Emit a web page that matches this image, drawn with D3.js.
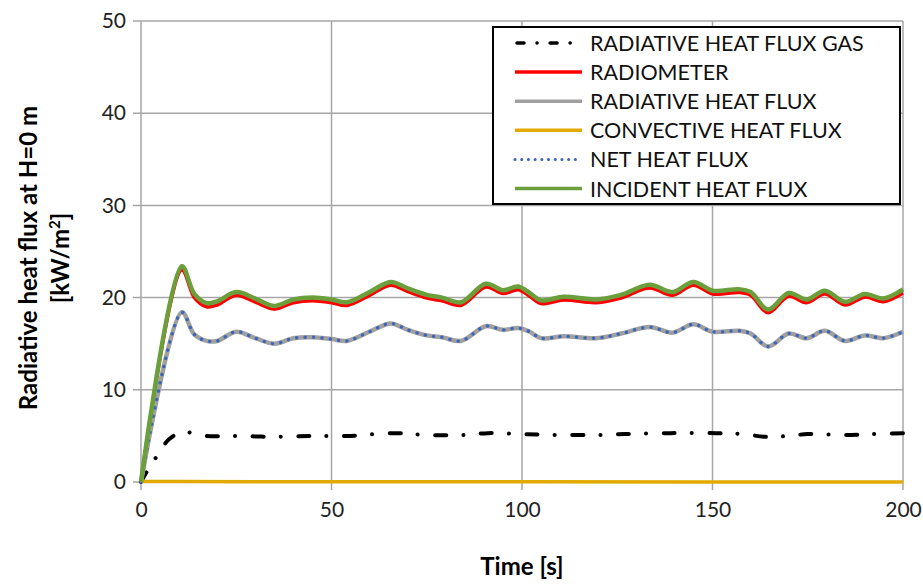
<!DOCTYPE html>
<html>
<head>
<meta charset="utf-8">
<script src="https://cdn.jsdelivr.net/npm/d3@7"></script>
<style>
  body { margin: 0; background: #fff; }
  svg { font-family: Lato, "Open Sans", sans-serif; }
</style>
</head>
<body>
<div id="main"></div>
<script>
// time knots (s) for the flux curves
var timeFlux = [0, 10.7, 14, 17.2, 20, 25, 30, 35, 40, 45, 50, 54, 60, 65.5, 70, 75, 79, 84, 90.5, 95, 99, 102,
  105, 111, 119.5, 126, 133.5, 139.5, 145, 150, 157, 160, 164.6, 170, 174.7, 179.5, 184.8, 190, 194.8, 200];
var incident = [0, 23.4, 20.4, 19.4, 19.6, 20.6, 19.9, 19.1, 19.8, 20.0, 19.8, 19.5, 20.6, 21.7, 21.0, 20.3, 20.0, 19.5, 21.5, 20.8, 21.2, 20.5,
  19.7, 20.1, 19.8, 20.3, 21.4, 20.6, 21.7, 20.75, 20.9, 20.6, 18.7, 20.5, 19.8, 20.75, 19.55, 20.4, 19.9, 20.9];
var radiometer = [0, 23.0, 20.0, 19.0, 19.2, 20.25, 19.5, 18.75, 19.45, 19.65, 19.45, 19.15, 20.25, 21.35, 20.65, 19.95, 19.65, 19.15, 21.15, 20.45, 20.85, 20.15,
  19.35, 19.75, 19.45, 19.95, 21.05, 20.25, 21.35, 20.4, 20.55, 20.25, 18.35, 20.15, 19.45, 20.4, 19.2, 20.05, 19.55, 20.5];
var radiative = [0, 18.4, 16.0, 15.3, 15.3, 16.3, 15.6, 15.0, 15.6, 15.7, 15.5, 15.3, 16.3, 17.2, 16.5, 15.9, 15.7, 15.3, 16.9, 16.5, 16.7, 16.3,
  15.6, 15.8, 15.6, 16.1, 16.8, 16.2, 17.1, 16.3, 16.4, 16.1, 14.7, 16.1, 15.6, 16.4, 15.3, 15.9, 15.6, 16.3];
var net = radiative.slice();
var timeConv = [0, 10, 50, 100, 150, 200];
var convective = [0.05, 0.05, 0.03, 0.02, 0.01, 0.0];
var timeGas = [0, 1.5, 4, 7.5, 11, 13, 17, 25, 35, 45, 55, 66, 75, 85, 91, 100, 110, 120, 127, 139, 151, 158, 164, 170, 175, 185, 192, 200];
var gas = [0, 1.1, 2.7, 4.7, 5.4, 5.35, 5.0, 5.0, 4.9, 5.0, 5.0, 5.3, 5.1, 5.1, 5.3, 5.2, 5.1, 5.1, 5.2, 5.3, 5.3, 5.2, 4.9, 5.0, 5.2, 5.1, 5.2, 5.3];

var xTicks = [0, 50, 100, 150, 200];
var yTicks = [0, 10, 20, 30, 40, 50];
var seriesNames = ['RADIATIVE HEAT FLUX GAS', 'RADIOMETER', 'RADIATIVE HEAT FLUX',
  'CONVECTIVE HEAT FLUX', 'NET HEAT FLUX', 'INCIDENT HEAT FLUX'];

var W = 923, H = 584;
var svg = d3.select('#main').append('svg').attr('width', W).attr('height', H);

var x = d3.scaleLinear().domain([0, 200]).range([141, 903]);
var y = d3.scaleLinear().domain([0, 50]).range([482, 21]);
var grid = '#a6a6a6';

// grid
svg.append('g').selectAll('line').data(yTicks).join('line')
  .attr('x1', 133).attr('x2', x(200))
  .attr('y1', d => y(d)).attr('y2', d => y(d))
  .attr('stroke', grid).attr('stroke-width', 1.5);
svg.append('g').selectAll('line').data(xTicks).join('line')
  .attr('x1', d => x(d)).attr('x2', d => x(d))
  .attr('y1', y(50)).attr('y2', 490)
  .attr('stroke', grid).attr('stroke-width', 1.5);

// axes labels
var yAxis = d3.axisLeft(y).tickValues(yTicks).tickSize(0).tickPadding(15);
var gy = svg.append('g').attr('transform', 'translate(141,0)').call(yAxis);
gy.select('.domain').remove();
gy.selectAll('text').attr('font-size', 21).attr('fill', '#222').attr('font-family', 'Lato, sans-serif');

var xAxis = d3.axisBottom(x).tickValues(xTicks).tickSize(0).tickPadding(20);
var gx = svg.append('g').attr('transform', 'translate(0,482)').call(xAxis);
gx.select('.domain').remove();
gx.selectAll('text').attr('font-size', 21).attr('fill', '#222').attr('font-family', 'Lato, sans-serif');

// series
var curve = d3.curveCatmullRom.alpha(0.5);
function pts(t, v) { return t.map((d, i) => [d, v[i]]); }
var line = d3.line().x(d => x(d[0])).y(d => y(d[1])).curve(curve);

var styles = [
  { data: pts(timeGas, gas), color: '#000', width: 4, dash: '11,17,0.1,17.6', cap: 'round' },
  { data: pts(timeFlux, radiometer), color: '#ff0000', width: 3.5 },
  { data: pts(timeFlux, radiative), color: '#a0a0a0', width: 4.5 },
  { data: pts(timeConv, convective), color: '#e2aa00', width: 3.5 },
  { data: pts(timeFlux, net), color: '#3d66b8', width: 3.4, dash: '0.1,8.3', cap: 'round' },
  { data: pts(timeFlux, incident), color: '#6a9f3c', width: 4.5 }
];

styles.forEach(function(s) {
  svg.append('path').attr('d', line(s.data))
    .attr('fill', 'none').attr('stroke', s.color).attr('stroke-width', s.width)
    .attr('stroke-dasharray', s.dash || null)
    .attr('stroke-linecap', s.cap || 'butt').attr('stroke-linejoin', 'round');
});

// legend
var lg = svg.append('g');
lg.append('rect').attr('x', 493).attr('y', 27).attr('width', 407).attr('height', 177)
  .attr('fill', '#fff').attr('stroke', '#000').attr('stroke-width', 2);
var legendDash = ['7,13,0.1,13', null, null, null, '0.1,6.6', null];
seriesNames.forEach(function(name, i) {
  var cy = 43 + i * 29.1;
  var s = styles[i];
  lg.append('line').attr('x1', i === 0 ? 517 : 515).attr('x2', i === 4 ? 578 : 582)
    .attr('y1', cy).attr('y2', cy)
    .attr('stroke', s.color).attr('stroke-width', i === 4 ? 3 : 3.5)
    .attr('stroke-dasharray', legendDash[i])
    .attr('stroke-linecap', legendDash[i] ? 'round' : 'butt');
  lg.append('text').attr('x', 590).attr('y', cy + 8)
    .attr('font-size', 21.5).attr('fill', '#111').text(name);
});

// axis titles
svg.append('text').attr('x', 522).attr('y', 575).attr('text-anchor', 'middle')
  .attr('font-size', 24).attr('font-weight', 'bold').text('Time [s]');
var yt = svg.append('text').attr('transform', 'translate(0,258) rotate(-90)')
  .attr('text-anchor', 'middle').attr('font-size', 24).attr('font-weight', 'bold');
yt.append('tspan').attr('x', 0).attr('y', 37).text('Radiative heat flux at H=0 m');
var t2 = yt.append('tspan').attr('x', 0).attr('y', 69).text('[kW/m');
t2.append('tspan').attr('font-size', 15).attr('dy', -9).text('2');
t2.append('tspan').attr('dy', 9).text(']');
</script>
</body>
</html>
